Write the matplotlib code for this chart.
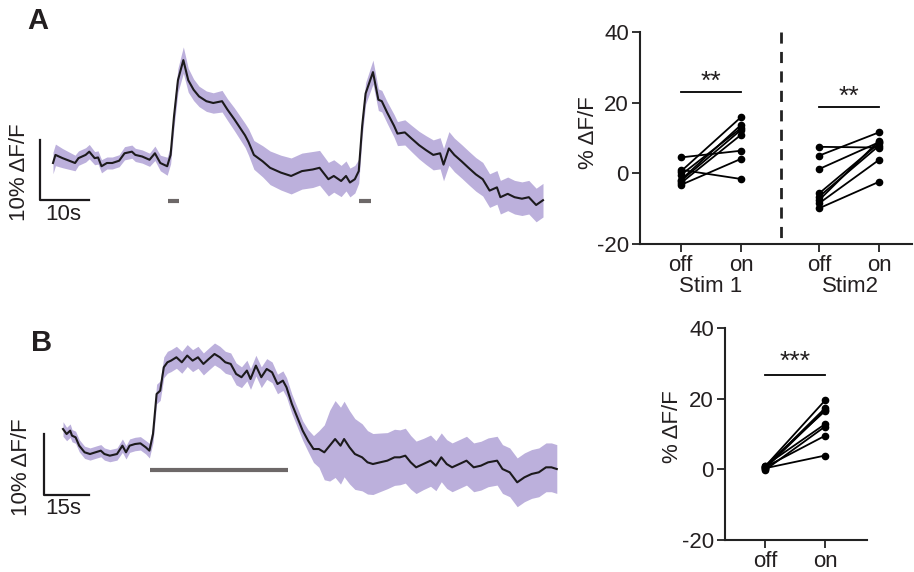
import matplotlib
matplotlib.use("Agg")
import matplotlib.pyplot as plt
import numpy as np

plt.rcParams['font.family'] = ['Liberation Sans', 'DejaVu Sans']
plt.rcParams['axes.unicode_minus'] = False

# ---------------- data ----------------
# Panel A mean trace (time s, %dF/F) and SEM
a_time = [0, 0.5, 1.95, 4.5, 5.2, 6.66, 7.4, 8.5, 9.2, 9.9, 11.0, 12.1, 13.5, 14.6, 16.1, 16.8,
          18.2, 19.7, 20.8, 21.9, 23.3, 24.0, 24.7, 25.5, 26.6, 27.6, 28.7, 29.8, 31.3, 32.7,
          34.5, 35.6, 37.0, 39.2, 39.9, 41.0, 42.8, 44.3, 46.5, 48.6, 50.8, 53.0, 54.4, 56.2,
          57.3, 58.8, 59.8, 60.6, 61.6, 62.4, 63.1, 63.8, 65.3, 66.4, 67.1, 68.2, 69.6, 70.3,
          71.8, 73.2, 74.7, 76.1, 77.6, 79.0, 79.7, 80.8, 81.9, 83.4, 84.8, 86.3, 87.7, 89.1,
          90.6, 91.3, 92.8, 94.2, 95.7, 97.1, 98.6, 100.0]
a_mean = [-0.5, 0.85, 0.31, -0.5, 0.31, 0.85, 1.39, 0.31, 0.42, -1.04, -0.5, -0.5, -0.12, 1.12,
          1.39, 0.85, 0.58, 0.04, 1.12, -0.5, -1.04, 0.85, 7.3, 13.3, 16.65, 13.3, 11.7, 10.6,
          9.8, 9.5, 9.8, 8.4, 6.8, 4.1, 3.0, 0.85, -0.23, -1.3, -2.1, -2.66, -1.85, -1.58, -1.3,
          -3.2, -2.66, -3.5, -2.66, -3.75, -3.2, -1.85, 5.7, 11.1, 14.65, 10.05, 9.8, 7.9, 5.7,
          4.4, 4.6, 3.56, 2.48, 1.66, 0.85, 1.12, -0.77, 1.93, 0.85, -0.23, -1.3, -2.4, -3.2,
          -5.1, -4.56, -6.2, -5.64, -6.2, -6.45, -6.2, -7.5, -6.7]
a_sem = [1.8, 1.8, 1.6, 1.3, 1.2, 1.2, 1.2, 1.1, 1.1, 1.1, 1.0, 1.0, 1.0, 1.1, 1.1, 1.1, 1.1,
         1.1, 1.2, 1.3, 1.5, 1.5, 1.8, 2.0, 2.2, 2.0, 1.8, 1.7, 1.7, 1.7, 1.8, 1.8, 1.9, 2.0,
         2.2, 2.4, 2.6, 2.8, 2.9, 3.0, 3.0, 3.0, 2.9, 2.8, 2.7, 2.6, 2.5, 2.4, 2.3, 2.0, 1.8,
         1.8, 2.0, 1.8, 1.8, 1.8, 1.9, 2.0, 2.1, 2.2, 2.3, 2.4, 2.5, 2.6, 2.7, 2.8, 2.8, 2.8,
         2.8, 2.8, 2.8, 2.8, 2.8, 2.8, 2.8, 2.8, 2.8, 2.8, 2.8, 2.8]
a_stim = [(23.5, 25.7), (62.4, 64.9)]

# Panel B mean trace and SEM
b_time = [0, 1.2, 2.4, 3.0, 4.2, 5.4, 7.2, 9.0, 10.8, 12.6, 13.8, 15.6, 18.0, 19.8, 21.0, 22.2,
          24.0, 25.8, 27.6, 28.8, 30.0, 31.2, 32.4, 33.6, 34.8, 36.0, 37.8, 39.6, 41.4, 43.2,
          45.0, 46.8, 48.6, 50.5, 52.3, 54.1, 55.9, 57.7, 59.5, 61.3, 62.5, 64.3, 66.1, 67.9,
          69.7, 71.5, 73.3, 74.5, 76.3, 78.1, 79.9, 81.7, 83.5, 85.3, 87.1, 88.9, 90.7, 92.5,
          93.7, 95.5, 97.3, 99.7, 101.5, 103.3, 105.7, 108.1, 110.5, 112.3, 114.1, 115.9,
          117.7, 120.1, 122.5, 124.3, 126.1, 127.9, 129.7, 132.1, 134.5, 136.9, 139.3, 141.7,
          144.7, 146.5, 148.9, 151.4, 153.8, 156.2, 158.6, 161.0, 162.8, 164.6]
b_mean = [4.26, 3.44, 3.99, 3.17, 2.90, 1.53, 0.44, 0.16, 0.44, 0.71, 0.16, -0.11, 0.16, 1.53,
          0.44, 1.53, 1.80, 1.91, 1.26, 0.71, 3.44, 10.0, 10.55, 14.38, 15.2, 15.47, 16.02,
          15.2, 16.3, 15.47, 16.02, 14.93, 15.74, 16.56, 16.02, 15.2, 14.93, 13.29, 12.75,
          13.84, 12.46, 14.65, 12.75, 14.1, 13.55, 11.64, 12.19, 11.1, 8.36, 6.17, 3.99, 2.35,
          0.98, 0.98, 0.44, 1.53, 2.62, 1.53, 2.62, 1.26, 0.16, -0.38, -1.2, -1.48, -1.2,
          -0.93, -0.38, -0.38, -0.11, -1.2, -2.02, -1.48, -0.93, -1.75, -0.38, -1.48, -2.02,
          -1.48, -0.93, -2.02, -1.75, -1.2, -0.93, -2.30, -2.84, -4.48, -3.66, -3.11, -2.84,
          -2.02, -2.02, -2.30]
b_sem = [1.2, 1.1, 1.1, 1.0, 1.0, 1.0, 1.0, 1.0, 1.0, 1.0, 1.0, 1.0, 1.0, 1.1, 1.1, 1.1, 1.1,
         1.1, 1.1, 1.2, 1.4, 1.6, 1.6, 1.7, 1.8, 1.8, 1.8, 1.8, 1.8, 1.8, 1.8, 1.8, 1.8, 1.8,
         1.8, 1.8, 1.8, 1.8, 1.7, 1.7, 1.7, 1.7, 1.7, 1.7, 1.7, 1.6, 1.6, 1.6, 1.6, 1.6, 1.6,
         1.8, 2.2, 3.0, 4.5, 5.8, 6.3, 6.3, 6.2, 6.0, 5.8, 5.5, 5.2, 5.0, 4.8, 4.6, 4.6, 4.5,
         4.5, 4.4, 4.3, 4.2, 4.2, 4.1, 4.0, 4.0, 4.0, 4.0, 4.0, 4.0, 4.0, 4.0, 4.0, 4.0, 4.0,
         4.0, 4.0, 4.0, 4.0, 4.0, 4.0, 4.0]
b_stim = (29.0, 75.0)

# Paired points, panel A (Stim 1 and Stim 2)
stim1_off = [4.5, 1.0, 0.5, -0.5, -1.9, -2.8, -3.3, -2.2]
stim1_on = [6.4, -1.6, 15.9, 12.8, 13.7, 10.9, 4.1, 12.3]
stim2_off = [7.5, 5.0, 1.2, -9.9, -5.7, -6.6, -7.6, -8.5]
stim2_on = [7.3, 11.6, 8.8, -2.4, 8.5, 7.8, 9.2, 3.8]
# Paired points, panel B
bpair_off = [0.8, 0.5, 0.2, 1.0, -0.2, 0.6, 0.3, 0.9]
bpair_on = [19.5, 17.3, 16.8, 12.8, 12.1, 9.5, 3.9, 16.5]

cond_labels = ['off', 'on']
group_labels = ['Stim 1', 'Stim2']
sig_labels = ['**', '**', '***']
y_ticks = [-20, 0, 20, 40]

# ---------------- layout ----------------
W, H = 914, 572
fig = plt.figure(figsize=(W / 100, H / 100), dpi=100)

def ax_px(x0, y0, x1, y1):
    return fig.add_axes([x0 / W, 1 - y1 / H, (x1 - x0) / W, (y1 - y0) / H])

PURPLE = '#bcb0dc'
LINE = '#1c1a1c'
STIMC = '#6d6868'
FS = 16
TXT = '#231f20'

def trace_panel(ax, t, m, s, xlim, ylim):
    t = np.asarray(t); m = np.asarray(m); s = np.asarray(s)
    ax.fill_between(t, m - s, m + s, color=PURPLE, lw=0)
    ax.plot(t, m, color=LINE, lw=1.5)
    ax.set_xlim(*xlim)
    ax.set_ylim(*ylim)
    ax.axis('off')

# Panel A trace: x pixels 20..560 ; t=(x-53)/4.9 ; y pixels 30..230 ; v=(160-y)/6
axA = ax_px(20, 30, 560, 230)
trace_panel(axA, a_time, a_mean, a_sem, ((20 - 53) / 4.9, (560 - 53) / 4.9),
            ((160 - 230) / 6, (160 - 30) / 6))
for s0, s1 in a_stim:
    axA.plot([s0, s1], [-6.83, -6.83], color=STIMC, lw=3, solid_capstyle='butt')
# scale bar A: 10 s, 10 %
sbx, sby = -2.65, -6.67
axA.plot([sbx, sbx, sbx + 10], [sby + 10, sby, sby], color=LINE, lw=1.6, clip_on=False)
fig.text(45 / W, 1 - 214 / H, '10s', fontsize=FS, ha='left', va='center', color=TXT)
fig.text(20 / W, 1 - 172 / H, '10% ΔF/F', fontsize=FS, ha='center', va='center', rotation=90,
         color=TXT)

# Panel B trace: t=(x-63)/3 ; v=(455-y)/6.1 ; y pixels 330..520
axB = ax_px(20, 330, 560, 520)
trace_panel(axB, b_time, b_mean, b_sem, ((20 - 63) / 3, (560 - 63) / 3),
            ((455 - 520) / 6.1, (455 - 330) / 6.1))
axB.plot(list(b_stim), [-2.46, -2.46], color=STIMC, lw=3, solid_capstyle='butt')
sbx, sby = -6.33, -6.56
axB.plot([sbx, sbx, sbx + 15], [sby + 10, sby, sby], color=LINE, lw=1.6, clip_on=False)
fig.text(45 / W, 1 - 508 / H, '15s', fontsize=FS, ha='left', va='center', color=TXT)
fig.text(22 / W, 1 - 467 / H, '10% ΔF/F', fontsize=FS, ha='center', va='center', rotation=90,
         color=TXT)

fig.text(27 / W, 1 - 21 / H, 'A', fontsize=21, fontweight='bold', ha='left', va='center',
         color=TXT)
fig.text(31 / W, 1 - 343 / H, 'B', fontsize=21, fontweight='bold', ha='left', va='center',
         color=TXT)

# ---------------- paired panels ----------------
def style_pair(ax):
    ax.spines['top'].set_visible(False)
    ax.spines['right'].set_visible(False)
    for sp in ('left', 'bottom'):
        ax.spines[sp].set_linewidth(1.5)
        ax.spines[sp].set_color('#222222')
    ax.set_ylim(-20, 40)
    ax.set_yticks(y_ticks)
    ax.tick_params(axis='both', direction='out', length=6, width=1.3, labelsize=FS,
                   colors='#222222', pad=2)
    for lab in ax.get_xticklabels() + ax.get_yticklabels():
        lab.set_color(TXT)

def pairs(ax, x0, x1, off, on):
    for a, b in zip(off, on):
        ax.plot([x0, x1], [a, b], color='black', lw=1.3, marker='o', ms=4.5,
                solid_capstyle='round', clip_on=False)

def sig(ax, x0, x1, y, text, ty):
    ax.plot([x0, x1], [y, y], color='black', lw=1.3)
    ax.text((x0 + x1) / 2, ty, text, fontsize=19, ha='center', va='center', color=TXT)

# Right A: y-axis x=640, right edge 912 ; off1 at 680.7 px, 60.3 px per unit
axR = ax_px(640, 32, 912, 244)
style_pair(axR)
u = 60.3
pos = [0, 1, (819 - 680.7) / u, (879 - 680.7) / u]
axR.set_xlim((640 - 680.7) / u, (912 - 680.7) / u)
pairs(axR, pos[0], pos[1], stim1_off, stim1_on)
pairs(axR, pos[2], pos[3], stim2_off, stim2_on)
axR.set_xticks(pos)
axR.set_xticklabels(cond_labels * 2, color=TXT)
sig(axR, pos[0], pos[1], 23, sig_labels[0], 26.0)
sig(axR, pos[2], pos[3], 18.7, sig_labels[1], 21.7)
xd = (780.7 - 680.7) / u
axR.plot([xd, xd], [40, -20], color='#222222', lw=2, ls=(0, (4, 3)), clip_on=False)
fig.text(711 / W, 1 - 287 / H, group_labels[0], fontsize=FS, ha='center', va='center', color=TXT)
fig.text(850 / W, 1 - 287 / H, group_labels[1], fontsize=FS, ha='center', va='center', color=TXT)
fig.text(588 / W, 1 - 133 / H, '% ΔF/F', fontsize=FS, ha='center', va='center', rotation=90,
         color=TXT)

# Right B: y-axis x=725, right 867 ; off at 765, on at 825
axRB = ax_px(725, 328, 867, 540)
style_pair(axRB)
u2 = 60.0
axRB.set_xlim((725 - 765) / u2, (867 - 765) / u2)
pairs(axRB, 0, 1, bpair_off, bpair_on)
axRB.set_xticks([0, 1])
axRB.set_xticklabels(cond_labels, color=TXT)
sig(axRB, 0, 1, 26.8, sig_labels[2], 30.3)
fig.text(672 / W, 1 - 427 / H, '% ΔF/F', fontsize=FS, ha='center', va='center', rotation=90,
         color=TXT)

fig.savefig('out.png', dpi=100)
